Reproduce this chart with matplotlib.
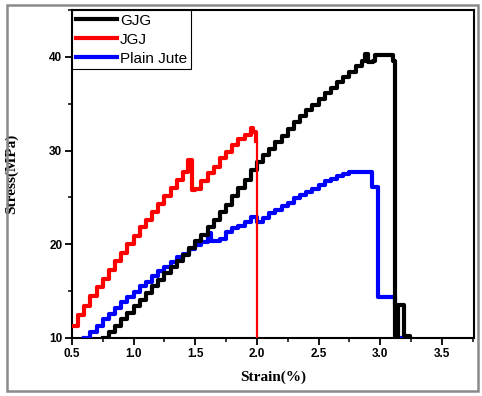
import matplotlib
matplotlib.use("Agg")
import matplotlib.pyplot as plt
from matplotlib.patches import Rectangle
from matplotlib.ticker import MultipleLocator

# ---- data ----
jgj_strain = [0.50, 0.55, 0.60, 0.65, 0.70, 0.75, 0.80, 0.85, 0.90, 0.95, 1.00, 1.05, 1.10,
              1.15, 1.20, 1.25, 1.30, 1.35, 1.40, 1.44, 1.47, 1.50, 1.55, 1.60, 1.65, 1.70,
              1.75, 1.80, 1.85, 1.90, 1.95, 1.97, 1.99, 2.00]
jgj_stress = [11.3, 12.5, 13.4, 14.5, 15.4, 16.3, 17.3, 18.2, 19.1, 20.0, 20.9, 21.8, 22.6,
              23.4, 24.3, 25.1, 26.0, 26.9, 27.7, 29.0, 25.8, 25.9, 26.8, 27.6, 28.3, 29.2,
              29.9, 30.6, 31.2, 31.7, 32.4, 32.0, 31.0, 10.0]

gjg_strain = [0.75, 0.80, 0.85, 0.90, 0.95, 1.00, 1.05, 1.10, 1.15, 1.20, 1.25, 1.30, 1.35,
              1.40, 1.45, 1.50, 1.55, 1.60, 1.65, 1.70, 1.75, 1.80, 1.85, 1.90, 1.95, 2.00,
              2.05, 2.10, 2.15, 2.20, 2.25, 2.30, 2.35, 2.40, 2.45, 2.50, 2.55, 2.60, 2.65,
              2.70, 2.75, 2.80, 2.85, 2.88, 2.90, 2.94, 2.96, 3.05, 3.10, 3.12, 3.14, 3.19,
              3.19, 3.24]
gjg_stress = [10.0, 10.6, 11.3, 12.0, 12.7, 13.4, 14.1, 14.8, 15.5, 16.2, 16.9, 17.6, 18.2,
              18.9, 19.6, 20.3, 21.0, 21.8, 22.6, 23.4, 24.2, 25.1, 26.0, 26.9, 27.9, 28.8,
              29.5, 30.2, 30.9, 31.6, 32.3, 33.0, 33.7, 34.3, 34.9, 35.5, 36.1, 36.7, 37.3,
              37.9, 38.4, 39.0, 39.6, 40.3, 39.5, 39.6, 40.2, 40.2, 39.6, 10.0, 13.5, 13.5,
              10.2, 10.0]

plain_strain = [0.60, 0.65, 0.70, 0.75, 0.80, 0.85, 0.90, 0.95, 1.00, 1.05, 1.10, 1.15, 1.20,
                1.25, 1.30, 1.35, 1.40, 1.45, 1.50, 1.55, 1.60, 1.63, 1.70, 1.75, 1.80, 1.85,
                1.90, 1.95, 2.00, 2.05, 2.10, 2.15, 2.20, 2.25, 2.30, 2.35, 2.40, 2.45, 2.50,
                2.55, 2.60, 2.65, 2.70, 2.75, 2.92, 2.93, 2.97, 2.98, 3.11, 3.12, 3.13, 3.24]
plain_stress = [10.0, 10.6, 11.3, 12.0, 12.6, 13.2, 13.8, 14.4, 14.9, 15.5, 16.0, 16.6, 17.1,
                17.6, 18.1, 18.6, 19.0, 19.5, 19.9, 20.2, 21.2, 20.4, 20.6, 21.3, 21.7, 22.0,
                22.4, 22.9, 22.4, 22.8, 23.3, 23.7, 24.1, 24.4, 24.9, 25.3, 25.6, 25.9, 26.3,
                26.7, 27.0, 27.3, 27.5, 27.7, 27.7, 26.1, 26.1, 14.4, 14.4, 13.5, 10.0, 10.0]

labels = ["GJG", "JGJ", "Plain Jute"]
colors = ["black", "#ff0000", "#0000ff"]
x_ticks = [0.5, 1.0, 1.5, 2.0, 2.5, 3.0, 3.5]
y_ticks = [10, 20, 30, 40]

fig = plt.figure(figsize=(4.82, 3.96), dpi=100)
fig.patch.set_facecolor("white")
fig.add_artist(Rectangle((7 / 482, 1 - 391 / 396), 471 / 482, 386 / 396,
                         transform=fig.transFigure, fill=False,
                         edgecolor="#8a8a8a", linewidth=1.8))

ax = fig.add_axes([72 / 482, 58 / 396, 402 / 482, 328 / 396])

h_plain, = ax.plot(plain_strain, plain_stress, drawstyle="steps-post", color=colors[2],
                   lw=3.0, label=labels[2], zorder=3)
h_gjg, = ax.plot(gjg_strain, gjg_stress, drawstyle="steps-post", color=colors[0],
                 lw=3.0, label=labels[0], zorder=4)
h_jgj, = ax.plot(jgj_strain[:-1], jgj_stress[:-1], drawstyle="steps-post", color=colors[1],
                 lw=3.0, label=labels[1], zorder=5)
# the final fracture drop of JGJ is drawn thin, as in the reference
ax.plot(jgj_strain[-2:], jgj_stress[-2:], drawstyle="steps-post", color=colors[1],
        lw=1.6, zorder=5)

ax.set_xlim(0.5, 3.76)
ax.set_ylim(10, 45)
ax.set_xticks(x_ticks)
ax.set_yticks(y_ticks)
ax.xaxis.set_minor_locator(MultipleLocator(0.25))
ax.yaxis.set_minor_locator(MultipleLocator(5))
ax.tick_params(which="major", direction="out", length=5, width=1.3, labelsize=8.5, pad=2)
ax.tick_params(which="minor", direction="out", length=3, width=1.1)
for lab in ax.get_xticklabels() + ax.get_yticklabels():
    lab.set_fontfamily("Liberation Sans")
    lab.set_fontweight("bold")
for sp in ax.spines.values():
    sp.set_linewidth(1.5)
    sp.set_color("black")

ax.set_xlabel("Strain(%)", fontfamily="Liberation Serif", fontweight="bold",
              fontsize=11, labelpad=8)
ax.set_ylabel("Stress(MPa)", fontfamily="Liberation Serif", fontweight="bold",
              fontsize=11, labelpad=22)

leg = ax.legend([h_gjg, h_jgj, h_plain], labels, loc="upper left",
                frameon=True, fancybox=False, framealpha=1, edgecolor="black",
                prop={"family": "Liberation Sans", "size": 11},
                borderaxespad=0.0, borderpad=0.25, handlelength=2.7,
                handletextpad=0.2, labelspacing=0.32)
leg.get_frame().set_linewidth(0.8)

fig.savefig("out.png", dpi=100)
